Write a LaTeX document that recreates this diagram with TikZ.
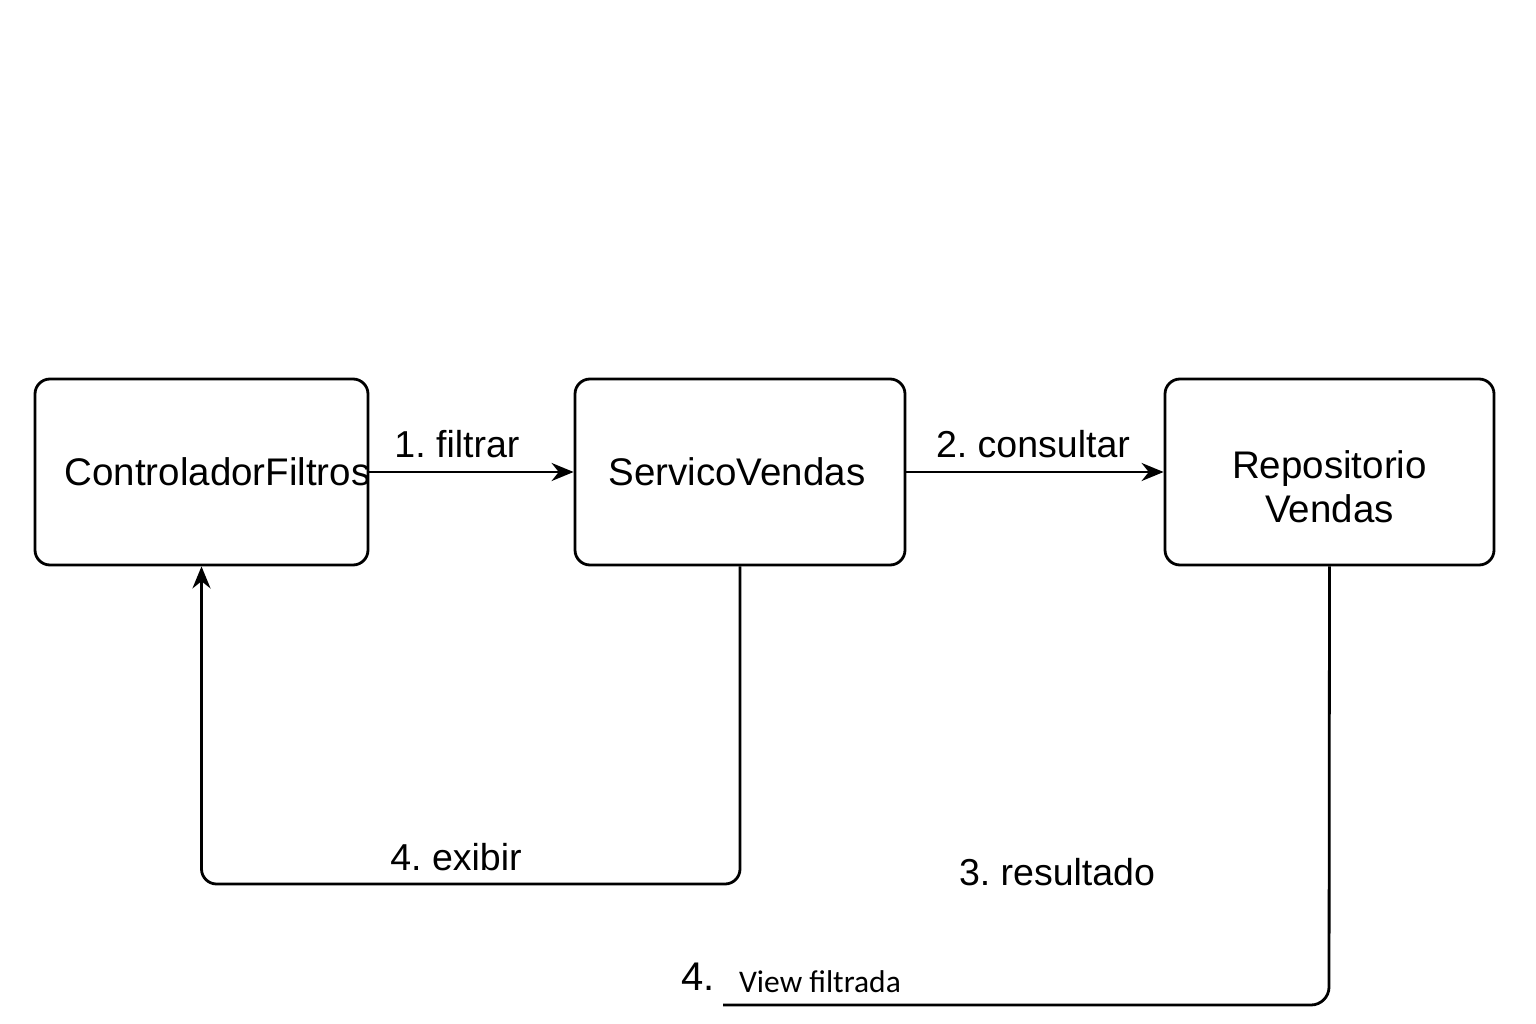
\documentclass[tikz,border=0pt]{standalone}
\usepackage{fontspec}
\setmainfont{Liberation Sans}
\newfontfamily\calib{Carlito}
\usetikzlibrary{arrows.meta}
\frenchspacing
\begin{document}
\begin{tikzpicture}[x=1pt,y=-1pt,
  box/.style={draw, line width=2.8pt, rounded corners=15pt, minimum width=331pt, minimum height=186pt, inner sep=0pt, align=center, font=\fontsize{38.5}{44}\selectfont},
  conn/.style={line width=2.8pt},
  arr/.style={conn, -{Stealth[length=22pt,width=18pt]}},
  lbl/.style={inner sep=0pt, font=\fontsize{37.5}{42}\selectfont}]
\useasboundingbox (0,0) rectangle (1536,1024);
\node[box, minimum width=333pt] (ctrl) at (201.5,472) {\makebox[0pt]{\hspace{32pt}ControladorFiltros}};
\node[box, minimum width=330pt] (serv) at (740,472) {\makebox[0pt]{ServicoVendas\hspace{6pt}}};
\node[box, minimum width=329pt] (repo) at (1329.5,472) {\rule{0pt}{58pt}Repositorio\\Vendas};
\draw[arr] (ctrl.east) -- (serv.west);
\draw[arr] (serv.east) -- (repo.west);
\node[lbl] (l1) at (457,444) {1. filtrar};
\node[lbl] (l2) at (1033,444) {2. consultar};
\coordinate (c1) at (740,884);
\coordinate (c2) at (201.5,884);
\draw[arr, rounded corners=15pt] (serv.south) -- (c1) -- (c2) -- (ctrl.south);
\node[lbl] (l4) at (456,857) {4. exibir};
\coordinate (d1) at (1329,1005);
\coordinate (d2) at (723,1005);
\draw[conn, rounded corners=18pt] (repo.south) -- (d1) -- (d2);
\node[lbl] (l3) at (1057,872) {3. resultado};
\node[inner sep=0pt, font=\fontsize{40}{44}\selectfont] (l5) at (698,977) {4.};
\node[inner sep=0pt, font=\calib\fontsize{31.5}{36}\selectfont] (l6) at (820,982) {View filtrada};
\end{tikzpicture}
\end{document}
